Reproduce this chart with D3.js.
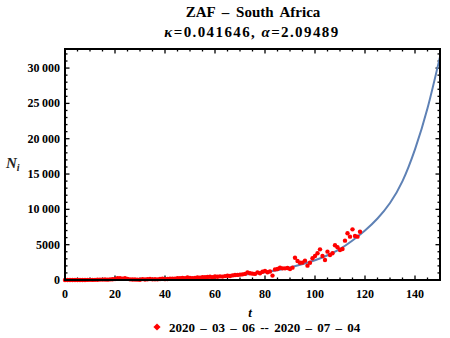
<!DOCTYPE html>
<html>
<head>
<meta charset="utf-8">
<script src="https://cdn.jsdelivr.net/npm/d3@7"></script>
<style>
  body { margin: 0; background: #fff; }
  svg text { font-family: "Liberation Serif", "Times New Roman", serif; font-weight: bold; }
</style>
</head>
<body>
<div id="chart"></div>
<script>
// daily counts, t = 0 .. 118
var counts = [
  0, 0, 0, 1, 3, 4, 6, 3, 10, 17, 24, 13, 24, 38, 60,
  54, 62, 50, 86, 100, 150,
  240, 250, 200, 260,
  160, 90, 70, 80, 50, 40, 130, 80, 100, 150, 90,
  110, 95, 150, 200, 120, 140, 200, 170, 180, 250,
  250, 300, 250, 350, 280, 270, 300, 350, 330, 400,
  380, 420, 450, 400, 500, 460, 520, 480, 550,
  610, 570, 650, 700, 720, 760, 800, 860, 1080, 950,
  900, 860, 1080, 950, 1160, 1270, 1090, 1200, 620, 1500,
  1560, 1740, 1650, 1650, 1700, 1560, 1750, 3160, 2690, 2450,
  2460, 2740, 2030, 2450, 3070, 3400, 3780, 4340, 3400, 2830,
  4010, 3540, 3780, 4910, 4630, 4250, 4390, 5570, 6610, 6140,
  7170, 6230, 6140, 6840
];

// fitted curve
var fitT = [0, 10, 20, 30, 40, 50, 60, 70, 80, 90, 100, 105, 110, 115, 120, 125, 130, 135, 140, 145, 150];
var fitN = [0, 2, 15, 50, 120, 240, 430, 720, 1100, 1780, 2800, 3500, 4400, 5600, 7000, 8700, 10900, 14000, 18500, 24300, 31600];

var xTicks = [0, 20, 40, 60, 80, 100, 120, 140];
var yTicks = [0, 5000, 10000, 15000, 20000, 25000, 30000];

var svgWidth = 450, svgHeight = 338;
var margin = { top: 49, right: 10, bottom: 58, left: 65 };
var width = svgWidth - margin.left - margin.right;
var height = svgHeight - margin.top - margin.bottom;

var svg = d3.select("#chart").append("svg")
  .attr("width", svgWidth)
  .attr("height", svgHeight);

var chartGroup = svg.append("g")
  .attr("transform", `translate(${margin.left}, ${margin.top})`);

var xScale = d3.scaleLinear().domain([0, 150]).range([0, width]);
var yScale = d3.scaleLinear().domain([0, 32700]).range([height, 0]);

var fmt = function(d) {
  return d >= 10000 ? d3.format(",")(d).replace(",", "\u2009") : d;
};

// major + minor ticks on all four sides
var xMinor = d3.range(0, 151, 5);
var yMinor = d3.range(0, 32001, 1000);
var ticks = chartGroup.append("g").attr("stroke", "#000");
xMinor.forEach(function(v) {
  var len = v % 20 === 0 ? 4.5 : 2.5;
  ticks.append("line").attr("x1", xScale(v)).attr("x2", xScale(v))
    .attr("y1", height).attr("y2", height - len).attr("stroke-width", 1.3);
  ticks.append("line").attr("x1", xScale(v)).attr("x2", xScale(v))
    .attr("y1", 0).attr("y2", len).attr("stroke-width", 1.3);
});
yMinor.forEach(function(v) {
  var len = v % 5000 === 0 ? 4.5 : 2.5;
  ticks.append("line").attr("y1", yScale(v)).attr("y2", yScale(v))
    .attr("x1", 0).attr("x2", len).attr("stroke-width", 1.3);
  ticks.append("line").attr("y1", yScale(v)).attr("y2", yScale(v))
    .attr("x1", width).attr("x2", width - len).attr("stroke-width", 1.3);
});

// tick labels
chartGroup.selectAll(".xl").data(xTicks).enter().append("text")
  .attr("x", d => xScale(d)).attr("y", height + 18)
  .attr("text-anchor", "middle").attr("font-size", 12)
  .text(d => d);
chartGroup.selectAll(".yl").data(yTicks).enter().append("text")
  .attr("x", -5).attr("y", d => yScale(d) + 4)
  .attr("text-anchor", "end").attr("font-size", 12)
  .text(fmt);

// fitted curve
var line = d3.line()
  .x((d, i) => xScale(fitT[i]))
  .y(d => yScale(d))
  .curve(d3.curveNatural);
chartGroup.append("path")
  .datum(fitN)
  .attr("d", line)
  .attr("fill", "none")
  .attr("stroke", "#5e81b5")
  .attr("stroke-width", 2);

// data points
chartGroup.selectAll("circle")
  .data(counts)
  .enter()
  .append("circle")
  .attr("cx", (d, i) => xScale(i))
  .attr("cy", d => yScale(d))
  .attr("r", 2.2)
  .attr("fill", "#ff0000");

// frame
chartGroup.append("rect")
  .attr("width", width).attr("height", height)
  .attr("fill", "none").attr("stroke", "#000").attr("stroke-width", 2);

// axis labels
var nl = svg.append("text").attr("x", 6).attr("y", 168)
  .attr("font-size", 15).attr("font-style", "italic").attr("font-weight", "normal").attr("fill", "#222");
nl.append("tspan").text("N");
nl.append("tspan").attr("font-size", 10).attr("dy", 3).text("i");

svg.append("text").attr("x", 250).attr("y", 317)
  .attr("text-anchor", "middle").attr("font-size", 13).attr("font-style", "italic")
  .text("t");

// title
svg.append("text").attr("x", 253).attr("y", 17)
  .attr("text-anchor", "middle").attr("font-size", 15).attr("word-spacing", 3)
  .text("ZAF \u2013 South Africa");
var sub = svg.append("text").attr("x", 252).attr("y", 37)
  .attr("text-anchor", "middle").attr("font-size", 15).attr("letter-spacing", 1.4);
sub.append("tspan").attr("font-style", "italic").text("\u03ba");
sub.append("tspan").text("=0.041646, ");
sub.append("tspan").attr("font-style", "italic").text("\u03b1");
sub.append("tspan").text("=2.09489");

// legend
svg.append("path")
  .attr("d", d3.symbol().type(d3.symbolSquare).size(26)())
  .attr("transform", "translate(157, 327) rotate(45)")
  .attr("fill", "#ff0000");
svg.append("text").attr("x", 169).attr("y", 332)
  .attr("font-size", 13).attr("word-spacing", 2)
  .text("2020 \u2013 03 \u2013 06  --  2020 \u2013 07 \u2013 04");
</script>
</body>
</html>
